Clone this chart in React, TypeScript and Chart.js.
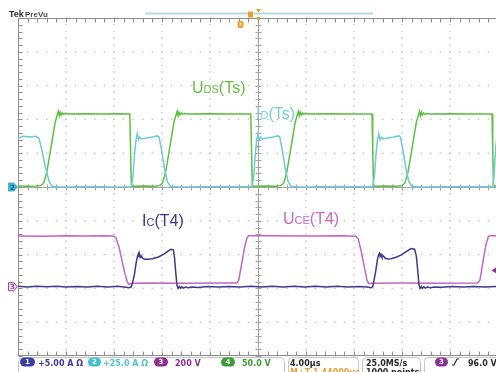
import React, { useEffect, useRef } from "react";
import { Chart, registerables } from "chart.js";

Chart.register(...registerables);

const W = 496;
const H = 372;

// Horizontal: 4 µs per division, trigger at the centre of the screen
const timePerDiv = 4;
const timeStart = -20;
const timeEnd = 19.8333;

// Vertical scale (units per division) and ground level (divisions above centre)
const ch1Scale = 5; // A/div   Ic(T4)
const ch2Scale = 25; // A/div  ID(Ts)
const ch3Scale = 200; // V/div UCE(T4)
const ch4Scale = 50; // V/div  UDS(Ts)
const ch1Ground = -2.95;
const ch2Ground = 0;
const ch3Ground = -2.95;
const ch4Ground = 0;
const triggerLevel = 96; // V on channel 3

// Status bar readouts
const ch1Readout = "+5.00 A Ω";
const ch2Readout = "+25.0 A Ω";
const ch3Readout = "200 V";
const ch4Readout = "50.0 V";
const timebaseReadout = "4.00µs";
const delayReadout = "M+T 1.44000µs";
const sampleRateReadout = "25.0MS/s";
const recordReadout = "1000 points";
const triggerReadout = "96.0 V";

// Waveforms: [time µs, value]
const uDsTs: [number, number][] = [
  [-20, 1.5], [-19.2, 1], [-18.4, 1.5], [-18.1, 2], [-17.85, 6], [-17.6, 22], [-17.35, 48], [-17.1, 75],
  [-16.9, 96], [-16.72, 107], [-16.64, 112], [-16.56, 105.5], [-16.48, 110.5], [-16.4, 106.5], [-16.3, 109.5],
  [-16.2, 107.5], [-16.05, 108.8], [-15.8, 108], [-14.5, 108.5], [-13, 108], [-11.5, 108.5], [-10.68, 108],
  [-10.62, 55], [-10.56, 4], [-10.45, 1], [-9.5, 1.5], [-8.6, 1], [-8.2, 2], [-7.95, 6], [-7.7, 22],
  [-7.45, 48], [-7.2, 75], [-7.0, 96], [-6.82, 107], [-6.74, 112], [-6.66, 105.5], [-6.58, 110.5], [-6.5, 106.5],
  [-6.4, 109.5], [-6.3, 107.5], [-6.15, 108.8], [-5.9, 108], [-4, 108.5], [-2, 108], [-0.6, 108], [-0.54, 55],
  [-0.48, 4], [-0.38, 1], [0.5, 1.5], [1.5, 1], [1.9, 2], [2.15, 6], [2.4, 22], [2.65, 48], [2.9, 75],
  [3.1, 96], [3.28, 107], [3.36, 112], [3.44, 105.5], [3.52, 110.5], [3.6, 106.5], [3.7, 109.5], [3.8, 107.5],
  [3.95, 108.8], [4.2, 108], [6, 108.5], [8, 108], [9.5, 108], [9.56, 55], [9.62, 4], [9.72, 1],
  [10.6, 1.5], [11.6, 1], [12.0, 2], [12.25, 6], [12.5, 22], [12.75, 48], [13.0, 75], [13.2, 96],
  [13.38, 107], [13.46, 112], [13.54, 105.5], [13.62, 110.5], [13.7, 106.5], [13.8, 109.5], [13.9, 107.5],
  [14.05, 108.8], [14.3, 108], [16, 108.5], [18, 108], [19.5, 108], [19.56, 55], [19.62, 4], [19.72, 1],
  [19.9, 1.5],
];

const iDTs: [number, number][] = [
  [-20, 36], [-19.6, 37.5], [-19.0, 37], [-18.5, 37.5], [-18.25, 36], [-18.0, 27], [-17.7, 14], [-17.4, 4],
  [-17.15, 0.5], [-16.5, 0], [-14, 0.3], [-12, 0], [-10.55, 0.2], [-10.42, 8], [-10.28, 25], [-10.15, 36],
  [-10.06, 39.5], [-9.96, 35], [-9.85, 36.8], [-9.7, 35.5], [-9.3, 36.2], [-8.8, 37], [-8.4, 37.8], [-8.25, 37],
  [-8.05, 28], [-7.8, 14], [-7.55, 4], [-7.3, 0.5], [-6.5, 0], [-3, 0.3], [-0.5, 0.2], [-0.36, 8],
  [-0.22, 25], [-0.09, 36], [0.0, 39.5], [0.1, 35], [0.21, 36.8], [0.36, 35.5], [0.76, 36.2], [1.26, 37],
  [1.66, 37.8], [1.81, 37], [2.01, 28], [2.26, 14], [2.51, 4], [2.76, 0.5], [3.5, 0], [7, 0.3],
  [9.56, 0.2], [9.7, 8], [9.84, 25], [9.97, 36], [10.06, 39.5], [10.16, 35], [10.27, 36.8], [10.42, 35.5],
  [10.82, 36.2], [11.32, 37], [11.72, 37.8], [11.87, 37], [12.07, 28], [12.32, 14], [12.57, 4],
  [12.82, 0.5], [13.6, 0], [17, 0.3], [19.58, 0.2], [19.68, 10], [19.8, 28], [19.9, 37],
];

const uCeT4: [number, number][] = [
  [-20, 300], [-18, 299], [-16, 302], [-14.5, 300], [-12.8, 301], [-12.05, 300], [-11.85, 290],
  [-11.6, 240], [-11.35, 160], [-11.1, 80], [-10.88, 25], [-10.75, 14], [-10.55, 20], [-9, 22],
  [-6, 21], [-3, 22], [-1.75, 22], [-1.6, 40], [-1.35, 140], [-1.1, 240], [-0.9, 292], [-0.78, 301],
  [1, 302], [4, 300], [7, 301], [8.15, 299], [8.35, 285], [8.6, 210], [8.85, 120], [9.08, 40],
  [9.22, 18], [9.4, 21], [12, 22], [15, 21], [18.3, 22], [18.5, 40], [18.75, 150], [19.0, 250],
  [19.2, 298], [19.35, 301], [19.9, 301],
];

const icT4: [number, number][] = [
  [-20, 0.05], [-19.2, -0.05], [-18.5, 0.08], [-17.6, -0.02], [-16.8, 0.06], [-16, -0.06], [-15.1, 0.04],
  [-14.2, -0.03], [-13.4, 0.07], [-12.5, -0.04], [-11.7, 0.05], [-11.0, -0.08], [-10.75, -0.15],
  [-10.58, -0.05], [-10.45, 0.6], [-10.3, 1.8], [-10.15, 3.6], [-10.03, 4.6], [-9.97, 4.9], [-9.91, 4.45],
  [-9.85, 4.75], [-9.78, 4.35], [-9.7, 4.5], [-9.58, 4.15], [-9.42, 4.05], [-9.2, 4.05], [-8.8, 4.15],
  [-8.3, 4.4], [-7.8, 4.85], [-7.5, 5.25], [-7.25, 5.55], [-7.05, 5.45], [-6.95, 4.2], [-6.85, 2.0],
  [-6.75, 0.2], [-6.66, -0.25], [-6.55, 0.05], [-6.45, -0.22], [-6.35, 0.0], [-6.22, -0.2],
  [-6.05, -0.05], [-5.85, -0.16], [-5.5, -0.04], [-5.0, -0.1], [-4.2, 0.02], [-3.3, -0.06], [-2.4, 0.04],
  [-1.5, -0.05], [-0.6, 0.05], [0.3, -0.04], [1.2, 0.06], [2.1, -0.05], [3.0, 0.05], [3.9, -0.03],
  [4.8, 0.06], [5.7, -0.04], [6.6, 0.05], [7.5, -0.05], [8.4, 0.04], [9.1, -0.06], [9.4, -0.15],
  [9.55, -0.05], [9.65, 0.8], [9.8, 2.2], [9.95, 4.0], [10.06, 4.75], [10.12, 4.95], [10.18, 4.5],
  [10.25, 4.8], [10.33, 4.4], [10.45, 4.55], [10.6, 4.2], [10.83, 4.1], [11.1, 4.15], [11.5, 4.35],
  [11.95, 4.7], [12.35, 5.2], [12.75, 5.65], [13.05, 5.55], [13.2, 4.5], [13.32, 2.2], [13.42, 0.2],
  [13.5, -0.25], [13.6, 0.05], [13.7, -0.22], [13.82, 0.0], [13.95, -0.2], [14.1, -0.05], [14.35, -0.15],
  [14.7, -0.04], [15.3, -0.08], [16.2, 0.03], [17.1, -0.05], [18.0, 0.04], [18.9, -0.05], [19.9, 0.03],
];

const greenTrace = "#5fbf43";
const cyanTrace = "#72c8d8";
const magentaTrace = "#c466c4";
const navyTrace = "#3e3a8c";

const toPoints = (arr: [number, number][]) => arr.map(([x, y]) => ({ x, y }));
const axisFor = (scale: number, ground: number) => ({
  type: "linear" as const,
  display: false,
  min: (-5 - ground) * scale,
  max: (5 - ground) * scale,
});

function roundRect(ctx: CanvasRenderingContext2D, x: number, y: number, w: number, h: number, r: number) {
  ctx.beginPath();
  ctx.moveTo(x + r, y);
  ctx.lineTo(x + w - r, y);
  ctx.arcTo(x + w, y, x + w, y + r, r);
  ctx.lineTo(x + w, y + h - r);
  ctx.arcTo(x + w, y + h, x + w - r, y + h, r);
  ctx.lineTo(x + r, y + h);
  ctx.arcTo(x, y + h, x, y + h - r, r);
  ctx.lineTo(x, y + r);
  ctx.arcTo(x, y, x + r, y, r);
  ctx.closePath();
}

function traceLabel(
  ctx: CanvasRenderingContext2D,
  x: number,
  y: number,
  main: string,
  sub: string,
  rest: string,
  color: string,
  size: number
) {
  const family = '"Liberation Sans", Arial, sans-serif';
  ctx.fillStyle = color;
  ctx.textBaseline = "alphabetic";
  ctx.textAlign = "left";
  ctx.font = `${size}px ${family}`;
  ctx.fillText(main, x, y);
  let cx = x + ctx.measureText(main).width;
  ctx.font = `${Math.round(size * 0.68)}px ${family}`;
  ctx.fillText(sub, cx, y);
  cx += ctx.measureText(sub).width;
  ctx.font = `${size}px ${family}`;
  ctx.fillText(rest, cx, y);
}

function badge(ctx: CanvasRenderingContext2D, x: number, y: number, w: number, h: number, fill: string, text: string) {
  roundRect(ctx, x, y, w, h, h / 2);
  ctx.fillStyle = fill;
  ctx.fill();
  ctx.fillStyle = "#ffffff";
  ctx.font = 'bold 7px "DejaVu Sans", sans-serif';
  ctx.textAlign = "center";
  ctx.textBaseline = "middle";
  ctx.fillText(text, x + w / 2, y + h / 2 + 0.5);
  ctx.textAlign = "left";
  ctx.textBaseline = "alphabetic";
}

const scopePlugin = {
  id: "scopeScreen",
  beforeDraw(chart: any) {
    const ctx: CanvasRenderingContext2D = chart.ctx;
    ctx.save();
    ctx.fillStyle = "#ffffff";
    ctx.fillRect(0, 0, chart.width, chart.height);
    ctx.restore();
  },
  beforeDatasetsDraw(chart: any) {
    const ctx: CanvasRenderingContext2D = chart.ctx;
    const xs = chart.scales.x;
    const { top, bottom, left } = chart.chartArea;
    const divW = xs.getPixelForValue(timeStart + timePerDiv) - xs.getPixelForValue(timeStart);
    const divH = (bottom - top) / 10;
    const cx = xs.getPixelForValue(0);
    const cy = top + 5 * divH;
    ctx.save();
    // dotted graticule
    ctx.fillStyle = "#c2c2c2";
    for (let i = 1; i < 10; i++) {
      if (i === 5) continue;
      const x = left + i * divW;
      for (let j = 0; j <= 50; j++) {
        const y = top + (j * divH) / 5;
        ctx.fillRect(x - 0.7, y - 0.7, 1.4, 1.4);
      }
    }
    for (let j = 1; j < 10; j++) {
      if (j === 5) continue;
      const y = top + j * divH;
      for (let i = 0; i <= 52; i++) {
        const x = left + (i * divW) / 5;
        ctx.fillRect(x - 0.7, y - 0.7, 1.4, 1.4);
      }
    }
    // centre cross with minor ticks
    ctx.strokeStyle = "#a4a4a4";
    ctx.lineWidth = 1;
    ctx.beginPath();
    const vx = Math.round(cx) + 0.5;
    const hy = Math.round(cy) + 0.5;
    ctx.moveTo(vx, top);
    ctx.lineTo(vx, bottom);
    ctx.moveTo(left, hy);
    ctx.lineTo(W, hy);
    for (let j = 0; j <= 50; j++) {
      const y = Math.round(top + (j * divH) / 5) + 0.5;
      ctx.moveTo(vx - 3, y);
      ctx.lineTo(vx + 3, y);
    }
    for (let i = 0; i <= 52; i++) {
      const x = Math.round(left + (i * divW) / 5) + 0.5;
      ctx.moveTo(x, hy - 3);
      ctx.lineTo(x, hy + 3);
    }
    ctx.stroke();
    // frame with inward ticks
    ctx.strokeStyle = "#8e8e8e";
    ctx.beginPath();
    const lx = Math.round(left) + 0.5;
    const ty = Math.round(top) + 0.5;
    const by = Math.round(bottom) - 0.5;
    ctx.moveTo(lx, top);
    ctx.lineTo(lx, bottom);
    ctx.moveTo(left, ty);
    ctx.lineTo(W, ty);
    ctx.moveTo(left, by);
    ctx.lineTo(W, by);
    for (let j = 0; j <= 50; j++) {
      const y = Math.round(top + (j * divH) / 5) + 0.5;
      ctx.moveTo(lx, y);
      ctx.lineTo(lx + 4, y);
    }
    for (let i = 0; i <= 52; i++) {
      const x = Math.round(left + (i * divW) / 5) + 0.5;
      ctx.moveTo(x, ty);
      ctx.lineTo(x, ty + 4);
      ctx.moveTo(x, by);
      ctx.lineTo(x, by - 4);
    }
    ctx.stroke();
    ctx.restore();
  },
  afterDatasetsDraw(chart: any) {
    const ctx: CanvasRenderingContext2D = chart.ctx;
    ctx.save();
    traceLabel(ctx, 192, 93, "U", "DS", "(Ts)", "#69be4a", 16);
    traceLabel(ctx, 256, 119, "I", "D", "(Ts)", "#7ccbdb", 16);
    traceLabel(ctx, 142, 226, "I", "C", "(T4)", "#3c3a80", 16);
    traceLabel(ctx, 283, 224, "U", "CE", "(T4)", "#c26cc4", 16);
    ctx.restore();
  },
  afterDraw(chart: any) {
    const ctx: CanvasRenderingContext2D = chart.ctx;
    const ys2 = chart.scales.yCh2;
    const ys3 = chart.scales.yCh3;
    ctx.save();

    // header
    ctx.fillStyle = "#2a2a2a";
    ctx.font = 'bold 9px "Liberation Sans", Arial, sans-serif';
    ctx.fillText("Tek", 9, 17);
    ctx.fillStyle = "#4a4a4a";
    ctx.font = 'bold 8px "Liberation Sans", Arial, sans-serif';
    ctx.fillText("PreVu", 25, 17);

    // record view bar and position markers
    ctx.fillStyle = "#b3dcdc";
    ctx.fillRect(145, 12.5, 228, 2);
    ctx.fillStyle = "#e6a033";
    ctx.fillRect(248, 11.5, 5, 6);
    ctx.beginPath();
    ctx.moveTo(256, 9);
    ctx.lineTo(261, 9);
    ctx.lineTo(258.5, 12.5);
    ctx.closePath();
    ctx.fill();
    ctx.fillRect(257, 17, 3, 3);
    roundRect(ctx, 237.5, 21, 6, 7, 2);
    ctx.fill();
    ctx.fillStyle = "#f7d9a0";
    ctx.fillRect(239.5, 22.5, 2, 3);

    // ground markers on the left
    const g2 = ys2.getPixelForValue(0);
    ctx.fillStyle = "#44b4d4";
    ctx.beginPath();
    ctx.moveTo(8, g2 - 4.5);
    ctx.lineTo(14, g2 - 4.5);
    ctx.lineTo(18, g2);
    ctx.lineTo(14, g2 + 4.5);
    ctx.lineTo(8, g2 + 4.5);
    ctx.closePath();
    ctx.fill();
    ctx.fillStyle = "#1e5f86";
    ctx.font = 'bold 7px "DejaVu Sans", sans-serif';
    ctx.fillText("2", 10, g2 + 2.5);

    const g3 = ys3.getPixelForValue(0);
    ctx.fillStyle = "#f6e4f6";
    ctx.strokeStyle = "#9b45a2";
    ctx.lineWidth = 1;
    ctx.beginPath();
    ctx.moveTo(8.5, g3 - 4);
    ctx.lineTo(14, g3 - 4);
    ctx.lineTo(17, g3);
    ctx.lineTo(14, g3 + 4);
    ctx.lineTo(8.5, g3 + 4);
    ctx.closePath();
    ctx.fill();
    ctx.stroke();
    ctx.fillStyle = "#9b45a2";
    ctx.font = 'bold 7px "DejaVu Sans", sans-serif';
    ctx.fillText("3", 10, g3 + 2.5);

    // trigger level marker on the right
    const trig = ys3.getPixelForValue(triggerLevel);
    ctx.fillStyle = "#8b2f93";
    ctx.beginPath();
    ctx.moveTo(491.5, trig);
    ctx.lineTo(497, trig - 3.5);
    ctx.lineTo(497, trig + 3.5);
    ctx.closePath();
    ctx.fill();

    // status bar boxes
    ctx.strokeStyle = "#c6c6c6";
    ctx.lineWidth = 1;
    roundRect(ctx, 18.5, 357.5, 266, 24, 4);
    ctx.stroke();
    roundRect(ctx, 288.5, 357.5, 70, 24, 4);
    ctx.stroke();
    roundRect(ctx, 362.5, 357.5, 58, 24, 4);
    ctx.stroke();
    roundRect(ctx, 424.5, 357.5, 80, 24, 4);
    ctx.stroke();

    const font = 'bold 8px "DejaVu Sans", sans-serif';
    const base = 365.5;
    badge(ctx, 20, 357.5, 15, 9, "#3c3ca2", "1");
    ctx.font = font;
    ctx.fillStyle = "#3c3c9e";
    ctx.fillText(ch1Readout, 38, base);
    badge(ctx, 88, 357.5, 13, 9, "#44bfd0", "2");
    ctx.font = font;
    ctx.fillStyle = "#55c1d2";
    ctx.fillText(ch2Readout, 103, base);
    badge(ctx, 154, 357.5, 14, 9, "#8b2f93", "3");
    ctx.font = font;
    ctx.fillStyle = "#8b2f93";
    ctx.fillText(ch3Readout, 175, base);
    badge(ctx, 221, 357.5, 14, 9, "#3d9c36", "4");
    ctx.font = font;
    ctx.fillStyle = "#3d9c36";
    ctx.fillText(ch4Readout, 242, base);

    ctx.fillStyle = "#2a2a2a";
    ctx.fillText(timebaseReadout, 290, base);
    ctx.fillText(sampleRateReadout, 366, base);
    ctx.fillText(recordReadout, 366, 375);
    ctx.fillStyle = "#e3a23a";
    ctx.fillText(delayReadout, 290, 375);

    badge(ctx, 435, 357.5, 13, 9, "#8b2f93", "3");
    ctx.strokeStyle = "#2a2a2a";
    ctx.lineWidth = 1.2;
    ctx.beginPath();
    ctx.moveTo(452, 365);
    ctx.lineTo(454, 365);
    ctx.lineTo(457, 359);
    ctx.lineTo(459, 359);
    ctx.stroke();
    ctx.font = font;
    ctx.fillStyle = "#2a2a2a";
    ctx.fillText(triggerReadout, 468, base);

    ctx.restore();
  },
};

export default function App() {
  const canvasRef = useRef<HTMLCanvasElement | null>(null);

  useEffect(() => {
    const canvas = canvasRef.current;
    if (!canvas) return;
    const trace = (label: string, data: [number, number][], color: string, axis: string) => ({
      label,
      data: toPoints(data),
      borderColor: color,
      backgroundColor: color,
      borderWidth: 1.5,
      pointRadius: 0,
      tension: 0,
      fill: false,
      yAxisID: axis,
    });
    const chart = new Chart(canvas, {
      type: "line",
      data: {
        datasets: [
          trace("IC(T4)", icT4, navyTrace, "yCh1"),
          trace("ID(Ts)", iDTs, cyanTrace, "yCh2"),
          trace("UCE(T4)", uCeT4, magentaTrace, "yCh3"),
          trace("UDS(Ts)", uDsTs, greenTrace, "yCh4"),
        ],
      },
      options: {
        animation: false,
        responsive: false,
        devicePixelRatio: 1,
        layout: { padding: { left: 18, top: 18, right: 0, bottom: 16 } },
        plugins: {
          legend: { display: false },
          tooltip: { enabled: false },
        },
        scales: {
          x: { type: "linear", display: false, min: timeStart, max: timeEnd },
          yCh1: axisFor(ch1Scale, ch1Ground),
          yCh2: axisFor(ch2Scale, ch2Ground),
          yCh3: axisFor(ch3Scale, ch3Ground),
          yCh4: axisFor(ch4Scale, ch4Ground),
        },
      },
      plugins: [scopePlugin],
    } as any);
    return () => chart.destroy();
  }, []);

  return (
    <div style={{ position: "fixed", left: 0, top: 0, width: W, height: H, background: "#fff" }}>
      <canvas ref={canvasRef} width={W} height={H} style={{ width: W, height: H, display: "block" }} />
    </div>
  );
}
